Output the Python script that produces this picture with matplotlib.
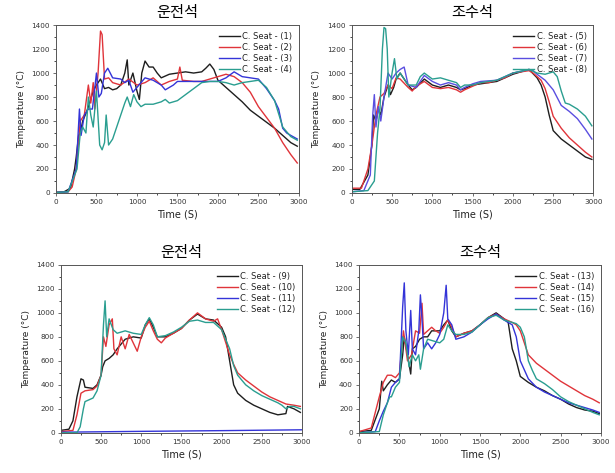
import matplotlib.pyplot as plt
from matplotlib.ticker import MultipleLocator

plt.rcParams['font.family'] = ['DejaVu Sans', 'Noto Sans CJK KR']

# panel titles
titles = ['운전석', '조수석', '운전석', '조수석']
colors = ['#1e1e1e', '#e0343a', '#3434d8', '#2a9e90']
colors_p2 = ['#1e1e1e', '#e0343a', '#5a4ee0', '#2a9e90']

# ---- top-left: C. Seat (1)-(4)
t1 = [0, 100, 180, 230, 250, 280, 300, 330, 380, 420, 460, 500, 550, 600, 650, 700, 750, 800, 850, 880, 900, 950, 1000, 1030, 1060, 1100, 1150, 1200, 1250, 1300, 1400, 1500, 1600, 1700, 1800, 1850, 1900, 1950, 2000, 2100, 2200, 2300, 2400, 2500, 2600, 2700, 2800, 2900, 2980]
y1 = [5, 10, 40, 200, 300, 480, 500, 600, 680, 760, 850, 900, 950, 870, 880, 860, 870, 900, 1000, 1110, 900, 1000, 850, 780, 1000, 1100, 1050, 1050, 1000, 960, 990, 1000, 1010, 1000, 1010, 1040, 1075, 1030, 940, 880, 820, 760, 690, 640, 590, 540, 480, 420, 390]
t2 = [0, 150, 200, 250, 300, 350, 400, 430, 460, 480, 520, 550, 570, 600, 650, 700, 800, 900, 1000, 1100, 1200, 1300, 1400, 1500, 1530, 1560, 1700, 1800, 1900, 2000, 2100, 2200, 2300, 2400, 2500, 2600, 2700, 2800, 2900, 2980]
y2 = [5, 10, 50, 200, 600, 650, 900, 750, 920, 700, 1000, 1350, 1320, 950, 960, 920, 900, 950, 900, 920, 960, 900, 930, 950, 1050, 940, 930, 930, 950, 970, 990, 970, 920, 840, 720, 630, 540, 420, 320, 250]
t3 = [0, 150, 250, 290, 310, 350, 400, 450, 500, 530, 560, 600, 640, 700, 800, 850, 900, 950, 1000, 1100, 1200, 1300, 1350, 1450, 1500, 1600, 1800, 1900, 2000, 2100, 2200, 2300, 2400, 2500, 2600, 2700, 2750, 2800, 2850, 2900, 2980]
y3 = [5, 10, 200, 700, 480, 650, 700, 700, 1000, 800, 830, 1000, 1040, 960, 950, 920, 940, 840, 880, 960, 940, 900, 860, 900, 930, 930, 930, 930, 930, 960, 1010, 970, 960, 950, 870, 770, 700, 540, 500, 480, 450]
t4 = [0, 150, 260, 300, 330, 370, 400, 430, 460, 500, 540, 570, 600, 620, 650, 700, 750, 800, 850, 880, 920, 960, 1000, 1050, 1100, 1200, 1300, 1350, 1400, 1500, 1600, 1700, 1800, 1900, 2000, 2100, 2200, 2300, 2400, 2500, 2600, 2700, 2800, 2900, 2980]
y4 = [5, 10, 200, 500, 550, 500, 800, 650, 550, 850, 400, 360, 420, 650, 400, 450, 550, 650, 750, 800, 720, 820, 760, 720, 740, 740, 760, 780, 750, 770, 820, 870, 920, 930, 930, 920, 900, 920, 930, 940, 880, 770, 550, 470, 440]

# ---- top-right: C. Seat (5)-(8)
t5 = [0, 100, 200, 250, 270, 300, 330, 360, 400, 450, 480, 520, 550, 600, 650, 700, 750, 800, 900, 1000, 1100, 1200, 1300, 1350, 1400, 1500, 1600, 1800, 1900, 2000, 2100, 2200, 2300, 2350, 2400, 2450, 2500, 2600, 2700, 2800, 2900, 2980]
y5 = [30, 30, 150, 400, 650, 600, 700, 650, 800, 900, 820, 880, 950, 1000, 950, 900, 860, 880, 950, 900, 880, 900, 880, 860, 870, 900, 910, 930, 960, 990, 1010, 1030, 960, 900, 800, 650, 520, 450, 400, 350, 300, 280]
t6 = [0, 120, 200, 250, 300, 350, 400, 450, 500, 550, 600, 700, 750, 800, 900, 1000, 1100, 1200, 1300, 1350, 1400, 1500, 1600, 1700, 1800, 1900, 2000, 2100, 2200, 2250, 2350, 2400, 2450, 2500, 2600, 2700, 2800, 2900, 2980]
y6 = [40, 40, 200, 400, 650, 800, 830, 900, 870, 960, 950, 880, 850, 890, 930, 880, 870, 880, 860, 840, 860, 890, 920, 920, 940, 960, 1000, 1010, 1020, 1000, 940, 870, 760, 640, 540, 460, 400, 340, 300]
t7 = [0, 150, 230, 260, 280, 300, 330, 360, 400, 450, 500, 550, 600, 650, 700, 800, 900, 1000, 1100, 1200, 1300, 1350, 1400, 1500, 1600, 1800, 1900, 2000, 2200, 2250, 2300, 2400, 2500, 2600, 2700, 2800, 2900, 2980]
y7 = [10, 20, 150, 650, 820, 550, 720, 600, 800, 1000, 950, 1000, 1030, 1050, 900, 880, 980, 930, 900, 920, 900, 860, 880, 910, 930, 940, 970, 1000, 1030, 1020, 990, 940, 860, 730, 680, 620, 530, 450]
t8 = [0, 200, 280, 320, 350, 380, 400, 420, 440, 460, 500, 530, 560, 600, 650, 700, 800, 850, 900, 1000, 1100, 1200, 1300, 1350, 1400, 1500, 1600, 1800, 1900, 2000, 2200, 2300, 2400, 2500, 2550, 2600, 2650, 2700, 2800, 2900, 2980]
y8 = [10, 20, 100, 500, 700, 1200, 1380, 1370, 1200, 800, 1000, 1120, 950, 1000, 950, 900, 900, 970, 1000, 950, 960, 940, 920, 880, 900, 900, 920, 940, 970, 1000, 1030, 1000, 990, 1010, 970, 850, 750, 740, 700, 640, 560]

# ---- bottom-left: C. Seat (9)-(12)
t9 = [0, 100, 150, 200, 250, 280, 300, 400, 450, 500, 520, 550, 600, 650, 700, 800, 900, 1000, 1050, 1100, 1150, 1200, 1300, 1400, 1500, 1600, 1700, 1800, 1900, 2000, 2050, 2100, 2150, 2200, 2300, 2400, 2500, 2600, 2700, 2800, 2820, 2900, 2980]
y9 = [20, 30, 100, 300, 450, 440, 380, 370, 400, 480, 550, 600, 620, 650, 700, 780, 800, 790, 900, 950, 880, 800, 800, 830, 870, 940, 990, 950, 940, 880, 800, 600, 400, 330, 270, 230, 200, 170, 150, 160, 220, 200, 170]
t10 = [0, 150, 200, 250, 300, 400, 450, 500, 530, 560, 600, 640, 660, 700, 750, 800, 850, 900, 950, 1000, 1050, 1100, 1150, 1200, 1250, 1300, 1400, 1500, 1600, 1700, 1800, 1900, 1950, 2000, 2100, 2150, 2200, 2300, 2400, 2500, 2600, 2700, 2800, 2900, 2980]
y10 = [10, 20, 150, 330, 350, 360, 390, 480, 800, 720, 900, 950, 700, 650, 800, 700, 820, 750, 680, 800, 880, 930, 850, 780, 750, 790, 830, 870, 940, 1000, 950, 930, 950, 860, 650, 570, 500, 440, 390, 340, 300, 270, 240, 230, 220]
t11 = [0, 1000, 2000, 3000]
y11 = [5, 12, 18, 25]
t12 = [0, 200, 240, 280, 300, 400, 450, 500, 530, 550, 570, 600, 650, 700, 800, 900, 1000, 1050, 1100, 1150, 1200, 1300, 1400, 1500, 1600, 1700, 1800, 1900, 2000, 2100, 2150, 2200, 2300, 2400, 2500, 2600, 2700, 2750, 2800, 2850, 2900, 2980]
y12 = [0, 0, 50, 200, 260, 290, 350, 480, 900, 1100, 800, 950, 860, 830, 850, 830, 820, 900, 960, 900, 800, 810, 840, 880, 930, 940, 920, 920, 860, 700, 560, 480, 400, 350, 310, 280, 250, 230, 200, 220, 220, 200]

# ---- bottom-right: C. Seat (13)-(16)
t13 = [0, 150, 250, 280, 300, 350, 400, 450, 500, 540, 560, 600, 640, 660, 700, 750, 800, 850, 900, 1000, 1050, 1100, 1150, 1200, 1300, 1400, 1500, 1600, 1700, 1800, 1850, 1900, 1950, 2000, 2100, 2200, 2300, 2400, 2500, 2600, 2700, 2800, 2900, 2980]
y13 = [10, 20, 200, 430, 350, 400, 440, 420, 450, 650, 800, 650, 490, 700, 720, 780, 800, 800, 850, 850, 900, 940, 850, 800, 830, 850, 900, 960, 1000, 950, 920, 700, 600, 470, 420, 380, 350, 310, 280, 240, 210, 190, 180, 160]
t14 = [0, 150, 250, 300, 350, 400, 450, 500, 550, 600, 650, 700, 750, 780, 800, 850, 900, 950, 1000, 1050, 1100, 1150, 1200, 1300, 1400, 1500, 1600, 1700, 1800, 1900, 1950, 2000, 2100, 2200, 2300, 2400, 2500, 2600, 2700, 2800, 2900, 2980]
y14 = [10, 40, 300, 420, 480, 480, 460, 500, 850, 600, 650, 850, 830, 1080, 820, 850, 880, 850, 830, 880, 940, 880, 800, 830, 850, 900, 960, 990, 950, 920, 900, 850, 650, 580, 530, 480, 430, 390, 350, 310, 280, 250]
t15 = [0, 200, 250, 300, 350, 400, 450, 500, 540, 560, 580, 610, 640, 660, 700, 740, 760, 780, 800, 850, 900, 950, 1000, 1050, 1080, 1100, 1150, 1200, 1300, 1400, 1500, 1600, 1700, 1800, 1900, 1950, 2000, 2100, 2200, 2300, 2400, 2500, 2600, 2700, 2800, 2900, 2980]
y15 = [0, 10, 100, 180, 250, 380, 420, 450, 1050, 1250, 850, 650, 1020, 700, 650, 850, 1150, 950, 700, 750, 700, 750, 820, 1000, 1230, 950, 900, 780, 800, 840, 900, 950, 990, 940, 900, 800, 600, 450, 380, 340, 310, 280, 250, 230, 210, 190, 170]
t16 = [0, 250, 300, 350, 380, 400, 450, 500, 540, 580, 620, 660, 700, 740, 760, 800, 850, 900, 1000, 1050, 1100, 1150, 1200, 1300, 1400, 1500, 1600, 1700, 1800, 1900, 1950, 2000, 2050, 2100, 2150, 2200, 2300, 2400, 2500, 2600, 2700, 2800, 2900, 2980]
y16 = [0, 10, 150, 250, 300, 300, 380, 420, 800, 750, 550, 650, 600, 650, 530, 700, 780, 770, 750, 780, 900, 850, 820, 820, 840, 900, 960, 980, 940, 920, 910, 880, 800, 600, 520, 450, 410, 360, 300, 260, 230, 200, 170, 150]

panels = [
    ([t1, t2, t3, t4], [y1, y2, y3, y4], [1, 2, 3, 4], colors),
    ([t5, t6, t7, t8], [y5, y6, y7, y8], [5, 6, 7, 8], colors_p2),
    ([t9, t10, t11, t12], [y9, y10, y11, y12], [9, 10, 11, 12], colors),
    ([t13, t14, t15, t16], [y13, y14, y15, y16], [13, 14, 15, 16], colors),
]

# axes rectangles in figure fractions
rects = [
    [0.091, 0.592, 0.395, 0.355],
    [0.572, 0.592, 0.393, 0.355],
    [0.099, 0.085, 0.392, 0.355],
    [0.584, 0.085, 0.393, 0.355],
]

fig = plt.figure(figsize=(6.15, 4.73), dpi=100)

for i in range(4):
    ax = fig.add_axes(rects[i])
    ts, ys, nums, cols = panels[i]
    for t, y, n, c in zip(ts, ys, nums, cols):
        ax.plot(t, y, color=c, lw=1.0, label='C. Seat - (%d)' % n)
    ax.set_xlim(0, 3000)
    ax.set_ylim(0, 1400)
    ax.xaxis.set_major_locator(MultipleLocator(500))
    ax.xaxis.set_minor_locator(MultipleLocator(250))
    ax.yaxis.set_major_locator(MultipleLocator(200))
    ax.yaxis.set_minor_locator(MultipleLocator(100))
    ax.tick_params(labelsize=5.2, length=2.5, width=0.6, pad=2, labelcolor='#333333', color='#555555')
    ax.tick_params(which='minor', length=1.5, width=0.5)
    for s in ax.spines.values():
        s.set_linewidth(0.7)
        s.set_color('#555555')
    ax.set_xlabel('Time (S)', fontsize=7, labelpad=3, color='#222222')
    ax.set_ylabel('Temperature (°C)', fontsize=6.5, labelpad=4, color='#222222')
    ax.set_title(titles[i], fontsize=11, pad=6, family=['Noto Sans CJK KR', 'DejaVu Sans'])
    leg = ax.legend(loc='upper right', frameon=False, fontsize=6, handlelength=2.5,
                    labelspacing=0.25, borderaxespad=0.4, handletextpad=0.3)
    for txt in leg.get_texts():
        txt.set_color('#222222')

fig.savefig('out.png', dpi=100)
